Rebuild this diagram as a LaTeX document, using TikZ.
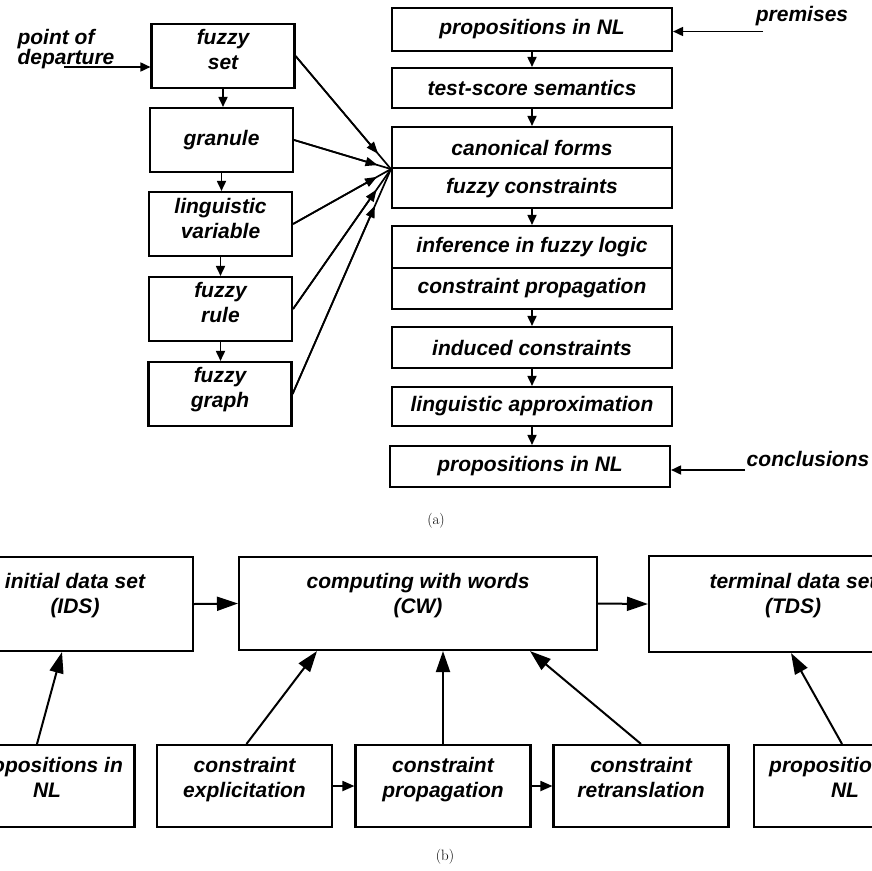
\documentclass[tikz,border=0pt]{standalone}
\usepackage{fontspec}
\newfontfamily\hv{Liberation Sans}
\usetikzlibrary{arrows.meta,calc}
\tikzset{
  txt/.style={font=\hv\bfseries\itshape\fontsize{21}{25}\selectfont, align=center, inner sep=0pt},
  box/.style={draw, line width=2.1pt, txt},
  lcol/.style={box, minimum width=143pt, minimum height=64pt},
  rcol/.style={box, minimum width=280pt},
  brow/.style={box, minimum width=175pt, minimum height=82pt, text depth=17pt},
  btop/.style={box, minimum height=94pt},
  arr/.style={line width=1.7pt, -{Triangle[length=10pt,width=9pt]}},
  fan/.style={line width=1.7pt, -{Triangle[length=12pt,width=9pt]}},
  bigarr/.style={line width=2pt, -{Triangle[length=21pt,width=14pt]}},
  smallarr/.style={line width=1.8pt, -{Triangle[length=12pt,width=10pt]}},
  captxt/.style={font=\fontsize{15}{17}\selectfont, inner sep=0pt}
}
\begin{document}
\begin{tikzpicture}[x=1pt,y=-1pt]
\useasboundingbox (0,0) rectangle (872,870);
\fill[white] (0,0) rectangle (872,870);
\clip (0,0) rectangle (872,870);

% ---------- (a) left column ----------
\node[lcol, text depth=14pt] (fset)   at (223,56)  {fuzzy\\set};
\node[lcol] (gran)   at (221.5,140) {granule};
\node[lcol, text depth=12pt] (lvar)   at (220.5,224) {linguistic\\variable};
\node[lcol, text depth=14pt] (frule)  at (220.5,309) {fuzzy\\rule};
\node[lcol, text depth=14pt] (fgraph) at (220,394) {fuzzy\\graph};

\draw[arr] (fset.south) -- (fset.south |- gran.north);
\draw[arr] (gran.south) -- (gran.south |- lvar.north);
\draw[arr] (lvar.south) -- (lvar.south |- frule.north);
\draw[arr] (frule.south) -- (frule.south |- fgraph.north);

\node[txt, align=left, font=\hv\bfseries\itshape\fontsize{21}{19}\selectfont] (pod) at (66,49) {point of\\departure};
\coordinate (podstart) at (64,67);
\draw[arr] (podstart) -- (podstart -| fset.west);

% ---------- (a) right column ----------
\node[rcol, minimum height=43pt] (pnl1) at (532,29.5) {propositions in NL};
\node[rcol, minimum height=40pt] (tss) at (532,88) {test-score semantics};
\node[rcol, minimum height=41pt] (canon) at (532,147.5) {canonical forms};
\node[rcol, minimum height=40pt] (fcons) at (532,188) {fuzzy constraints};
\node[rcol, minimum height=42pt] (infer) at (532,247) {inference in fuzzy logic};
\node[rcol, minimum height=41pt] (cprop) at (532,288.5) {constraint propagation};
\node[rcol, minimum height=41pt] (induced) at (532,347.5) {induced constraints};
\node[rcol, minimum height=39pt] (linapp) at (532,406.5) {linguistic approximation};
\node[rcol, minimum height=41pt] (pnl2) at (530,466.5) {propositions in NL};

\draw[arr] (pnl1.south) -- (pnl1.south |- tss.north);
\draw[arr] (tss.south) -- (tss.south |- canon.north);
\draw[arr] (fcons.south) -- (fcons.south |- infer.north);
\draw[arr] (cprop.south) -- (cprop.south |- induced.north);
\draw[arr] (induced.south) -- (induced.south |- linapp.north);
\draw[arr] (linapp.south) -- (linapp.south |- pnl2.north);

% fan into the hub
\coordinate (hub) at (canon.south west);
\foreach \n/\s in {fset/20,gran/14,lvar/16,frule/25,fgraph/40}{
  \draw[line width=1.7pt] (\n.east) -- (hub);
  \draw[fan, shorten >=\s pt] (\n.east) -- (hub);
}

% premises / conclusions
\node[txt] (prem) at (802,16) {premises};
\coordinate (premstart) at (763,31.5);
\draw[arr] (premstart) -- (premstart -| pnl1.east);
\node[txt] (conc) at (808,459) {conclusions};
\coordinate (concstart) at (745,470);
\draw[arr] (concstart) -- (concstart -| pnl2.east);

\node[captxt] (capa) at (436,521) {(a)};

% ---------- (b) ----------
\node[btop, minimum width=236pt] (ids) at (75,604) {};
\node[txt] (idst) at (75,596) {initial data set\\(IDS)};
\node[btop, minimum width=358pt, minimum height=93pt] (cw) at (418,603.5) {};
\node[txt] (cwt) at (418,596) {computing with words\\(CW)};
\node[btop, minimum width=284pt, minimum height=96pt] (tds) at (791,604) {};
\node[txt] (tdst) at (793,596) {terminal data set\\(TDS)};

\draw[bigarr] (ids.east) -- (cw.west);
\draw[bigarr] (cw.east) -- (tds.west);

\node[brow] (lpnl)  at (47,786) {propositions in\\NL};
\node[brow] (cexp)  at (244.5,786) {constraint\\explicitation};
\node[brow] (cprp)  at (443,786) {constraint\\propagation};
\node[brow] (cret)  at (641,786) {constraint\\retranslation};
\node[brow, minimum width=182pt] (rpnl) at (845,786) {propositions in\\NL};

\draw[smallarr] (cexp.east) -- (cprp.west);
\draw[smallarr] (cprp.east) -- (cret.west);

\draw[bigarr] ($(lpnl.north)+(-10,0)$) -- ($(ids.south)+(-13,0)$);
\draw[bigarr] ($(cexp.north)+(2,0)$) -- ($(cw.south)+(-101,0)$);
\draw[bigarr] (cprp.north) -- (cprp.north |- cw.south);
\draw[bigarr] (cret.north) -- ($(cw.south)+(112,0)$);
\draw[bigarr] ($(rpnl.north)+(-3,0)$) -- (tds.south);

\node[captxt] (capb) at (445,857) {(b)};
\end{tikzpicture}
\end{document}
